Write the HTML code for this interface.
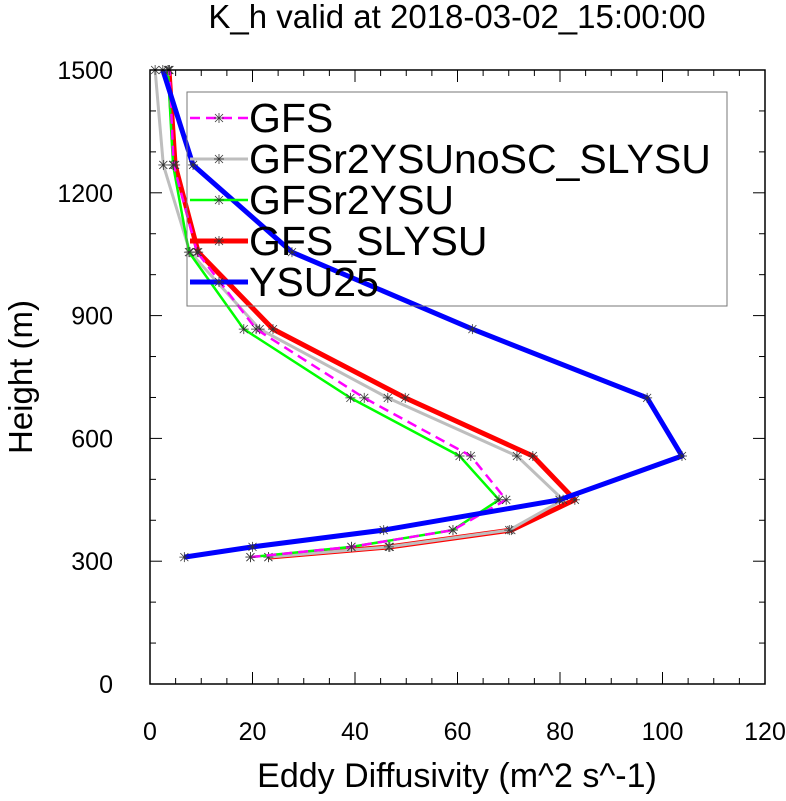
<!DOCTYPE html>
<html><head><meta charset="utf-8"><style>
body{margin:0;background:#fff;}
svg text{font-family:"Liberation Sans",sans-serif;}
</style></head><body>
<svg id="chart" width="786" height="796" xmlns="http://www.w3.org/2000/svg">
<text x="457" y="28" font-size="33" text-anchor="middle">K_h valid at 2018-03-02_15:00:00</text>
<g id="ticks"></g>
<g id="series"></g>
<rect x="150" y="70" width="615" height="614" fill="none" stroke="#000" stroke-width="1.5"/>
<text x="457" y="787" font-size="34" text-anchor="middle">Eddy Diffusivity (m^2 s^-1)</text>
<text transform="translate(32,377) rotate(-90)" font-size="33" text-anchor="middle">Height (m)</text>
<g id="legend"></g>
</svg>
<script>
const heights=[310,335,376,450,557,699,867,1055,1268,1500];
const seriesNames=["GFS","GFSr2YSUnoSC_SLYSU","GFSr2YSU","GFS_SLYSU","YSU25"];
const gfsVals=[19.6,39.3,59.1,69.5,62.6,41.8,20.7,9.2,4.6,3.8];
const grayVals=[23.1,46.6,70.1,80.6,71.6,46.4,21.4,7.8,2.6,1.0];
const greenVals=[19.6,39.3,59.1,68.1,60.4,39.1,18.3,7.6,4.5,3.5];
const redVals=[23.1,46.8,70.5,82.9,74.7,49.8,24.0,9.4,4.9,3.7];
const blueVals=[6.7,20.0,45.6,79.9,103.8,97.0,62.9,27.7,8.4,2.5];
const xTicks=[0,20,40,60,80,100,120];
const yTicks=[0,300,600,900,1200,1500];
const NS="http://www.w3.org/2000/svg";
const X=v=>150+v*615/120, Y=h=>684-h*614/1500;
function mk(t,a,p){const e=document.createElementNS(NS,t);for(const k in a)e.setAttribute(k,a[k]);p.appendChild(e);return e;}
const tk=document.getElementById('ticks');
for(let v=0;v<=120;v+=5){const maj=v%20===0,L=maj?12:6;
 const t1=mk('line',{x1:X(v),x2:X(v),y1:684,y2:684-L,stroke:'#000','stroke-width':1},tk);
 
 
 mk('line',{x1:X(v),x2:X(v),y1:70,y2:70+L,stroke:'#000','stroke-width':1},tk);}
for(let h=0;h<=1500;h+=100){const maj=h%300===0,L=maj?12:6;
 const t2=mk('line',{x1:150,x2:150+L,y1:Y(h),y2:Y(h),stroke:'#000','stroke-width':1},tk);
 
 
 mk('line',{x1:765,x2:765-L,y1:Y(h),y2:Y(h),stroke:'#000','stroke-width':1},tk);}
xTicks.forEach(v=>{const t=mk('text',{x:X(v),y:740,'font-size':25,'text-anchor':'middle'},tk);t.textContent=v;
 
 });
yTicks.forEach(h=>{const t=mk('text',{x:113,y:Y(h)+9,'font-size':25,'text-anchor':'end'},tk);t.textContent=h;
 
 });
const styles=[
 {vals:redVals,c:'#ff0000',w:5,d:null,i:3},
 {vals:grayVals,c:'#bebebe',w:3,d:null,i:1},
 {vals:greenVals,c:'#00ff00',w:2.5,d:null,i:2},
 {vals:gfsVals,c:'#ff00ff',w:2.5,d:'10,6',i:0},
 {vals:blueVals,c:'#0000ff',w:5,d:null,i:4}];
const sg=document.getElementById('series');
function star(x,y,p){['M-5,0L5,0','M0,-5L0,5','M-4,-4L4,4','M-4,4L4,-4'].forEach(d=>mk('path',{d:d,transform:`translate(${x},${y})`,stroke:'#333','stroke-width':0.8,fill:'none'},p));}
styles.forEach(s=>{
 const g=mk('g',{},sg);
 
 
 const pts=s.vals.map((v,k)=>X(v)+','+Y(heights[k])).join(' ');
 const a={points:pts,fill:'none',stroke:s.c,'stroke-width':s.w,'stroke-linejoin':'round'};
 if(s.d)a['stroke-dasharray']=s.d;
 mk('polyline',a,g);
 s.vals.forEach((v,k)=>star(X(v),Y(heights[k]),g));
});
const lg=document.getElementById('legend');
const box=mk('rect',{x:187,y:92,width:540,height:214,fill:'none',stroke:'#777','stroke-width':1},lg);


const legOrder=[{c:'#ff00ff',w:2.5,d:'10,6'},{c:'#bebebe',w:3},{c:'#00ff00',w:2.5},{c:'#ff0000',w:5},{c:'#0000ff',w:5}];
legOrder.forEach((s,i)=>{const y=118+i*41;
 const g=mk('g',{},lg);
 
 
 const a={x1:190,x2:248,y1:y,y2:y,stroke:s.c,'stroke-width':s.w};if(s.d)a['stroke-dasharray']=s.d;
 mk('line',a,g);star(219,y,g);
 const t=mk('text',{x:249,y:y+14,'font-size':41},g);t.textContent=seriesNames[i];});
</script>
</body></html>
